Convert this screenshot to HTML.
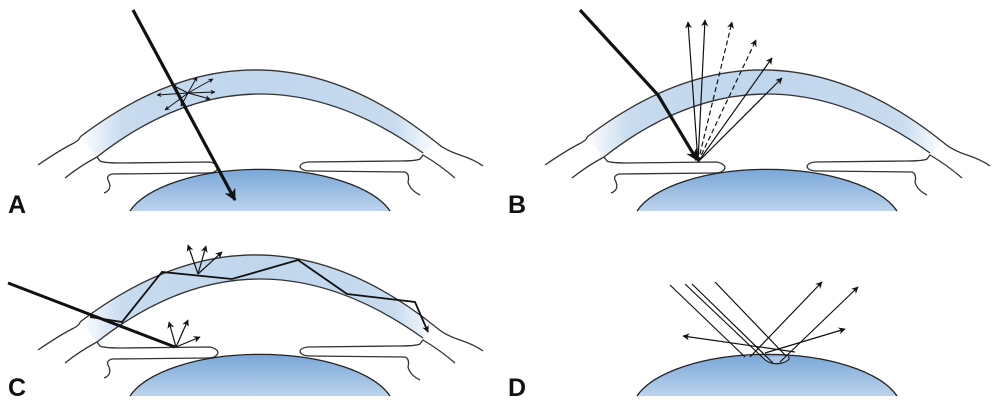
<!DOCTYPE html>
<html><head><meta charset="utf-8"><style>
html,body{margin:0;padding:0;background:#fff;width:1000px;height:404px;overflow:hidden}
svg{display:block}
text{font-family:"Liberation Sans",Arial,sans-serif;font-weight:bold;font-size:25px;fill:#111}
</style></head><body>
<svg width="1000" height="404" viewBox="0 0 1000 404" xmlns="http://www.w3.org/2000/svg">
<defs>
<linearGradient id="cg" x1="0" x2="1" y1="0" y2="0">
<stop offset="0" stop-color="#fff"/><stop offset="0.12" stop-color="#c8dbef"/>
<stop offset="0.5" stop-color="#c0d6ed"/><stop offset="0.88" stop-color="#c8dbef"/><stop offset="1" stop-color="#fff"/>
</linearGradient>
<linearGradient id="lg" x1="0" x2="0" y1="0" y2="1">
<stop offset="0" stop-color="#79a7d8"/><stop offset="1" stop-color="#bcd3ed"/>
</linearGradient>
<marker id="ah" viewBox="0 0 10 10" refX="9" refY="5" markerWidth="7" markerHeight="7" orient="auto-start-reverse" markerUnits="userSpaceOnUse"><path d="M0,0 L10,5 L0,10 L3,5 Z" fill="#111"/></marker>
<marker id="ahs" viewBox="0 0 10 10" refX="9" refY="5" markerWidth="5" markerHeight="5" orient="auto" markerUnits="userSpaceOnUse"><path d="M0,0 L10,5 L0,10 L3,5 Z" fill="#111"/></marker>
<marker id="ahb" viewBox="0 0 10 10" refX="9" refY="5" markerWidth="12" markerHeight="12" orient="auto" markerUnits="userSpaceOnUse"><path d="M0,0 L10,5 L0,10 L3,5 Z" fill="#111"/></marker>
<g id="lens"><path d="M130,211 A135,57 0 0 1 390,211 Z" fill="url(#lg)"/><path d="M130,211 A135,57 0 0 1 390,211" fill="none" stroke="#222" stroke-width="1.3"/></g>
<g id="eye" fill="none" stroke="#333" stroke-width="1.3">
<path d="M80,137 Q260,0 437,143 L423,153 Q255,33 97,157 Z" fill="url(#cg)" stroke="none"/>
<path d="M80,137 Q260,0 437,143"/>
<path d="M97,157 Q255,33 423,153"/>
<path d="M38,165 Q60,150 72,144 Q80,140 80,137"/>
<path d="M437,143 Q445,150 460,155 Q475,160 483,166"/>
<path d="M65,178 Q80,166 97,157 L100,161 Q104,163 120,163 L210,162 Q218,164 218,168 Q216,173 208,173 L112,174 Q105,176 109,182 Q112,190 104,193"/>
<path d="M455,178 Q440,165 423,155 L420,159 Q416,161 400,161 L308,162 Q300,163 300,167 Q302,171 310,171 L405,172 Q410,174 408,182 Q410,190 420,195"/>
<use href="#lens" stroke="none"/>
</g>
</defs>

<!-- Panel A -->
<use href="#eye"/>
<g stroke="#111" stroke-width="1" marker-end="url(#ahs)">
<line x1="188" y1="93" x2="157" y2="95"/><line x1="188" y1="93" x2="172" y2="85"/>
<line x1="188" y1="93" x2="197" y2="77"/><line x1="188" y1="93" x2="213" y2="79"/>
<line x1="188" y1="93" x2="215" y2="92"/><line x1="188" y1="93" x2="210" y2="99"/>
<line x1="188" y1="93" x2="181" y2="106"/><line x1="188" y1="93" x2="165" y2="110"/>
</g>
<line x1="133" y1="10" x2="235" y2="200" stroke="#111" stroke-width="3.2" marker-end="url(#ahb)"/>
<text x="8" y="213">A</text>

<!-- Panel B -->
<use href="#eye" transform="translate(507,0)"/>
<g stroke="#111" stroke-width="1.2" marker-end="url(#ah)" fill="none">
<line x1="698" y1="162" x2="688" y2="22"/>
<line x1="698" y1="162" x2="705" y2="20"/>
<line x1="698" y1="162" x2="732" y2="22" stroke-dasharray="5,3"/>
<line x1="698" y1="162" x2="756" y2="40" stroke-dasharray="5,3"/>
<line x1="698" y1="162" x2="772" y2="58"/>
<line x1="698" y1="162" x2="782" y2="78"/>
</g>
<polyline points="580,10 658,95 697,160" fill="none" stroke="#111" stroke-width="3.2" marker-end="url(#ahb)"/>
<text x="508" y="213">B</text>

<!-- Panel C -->
<use href="#eye" transform="translate(0,185)"/>
<polyline points="90,317 122,322 162,272 232,279 298,260 347,294 415,302 428,332" fill="none" stroke="#111" stroke-width="1.8" marker-end="url(#ah)"/>
<line x1="8" y1="283" x2="175" y2="347" stroke="#111" stroke-width="3"/>
<g stroke="#111" stroke-width="1.2" marker-end="url(#ah)">
<line x1="198" y1="274" x2="188" y2="245"/><line x1="198" y1="274" x2="206" y2="246"/><line x1="198" y1="274" x2="222" y2="252"/>
<line x1="176" y1="347" x2="169" y2="322"/><line x1="176" y1="347" x2="188" y2="320"/><line x1="176" y1="347" x2="200" y2="337"/>
</g>
<text x="8" y="396">C</text>

<!-- Panel D -->
<use href="#lens" transform="translate(507,185)"/>
<path d="M762,357 Q770,366 782,363 Q792,360 788,356" fill="#a9c6e8" stroke="#222" stroke-width="1.2"/>
<g stroke="#111" stroke-width="1.2" fill="none">
<line x1="670" y1="285" x2="745" y2="357"/>
<line x1="685" y1="284" x2="762" y2="357"/>
<line x1="692" y1="284" x2="773" y2="363"/>
<line x1="715" y1="282" x2="786" y2="356"/>
<line x1="750" y1="357" x2="822" y2="282" marker-end="url(#ah)"/>
<line x1="780" y1="362" x2="858" y2="287" marker-end="url(#ah)"/>
<line x1="765" y1="353" x2="845" y2="329" marker-end="url(#ah)"/>
<line x1="795" y1="352" x2="683" y2="336" marker-end="url(#ah)"/>
</g>
<text x="508" y="396">D</text>
</svg>
</body></html>
